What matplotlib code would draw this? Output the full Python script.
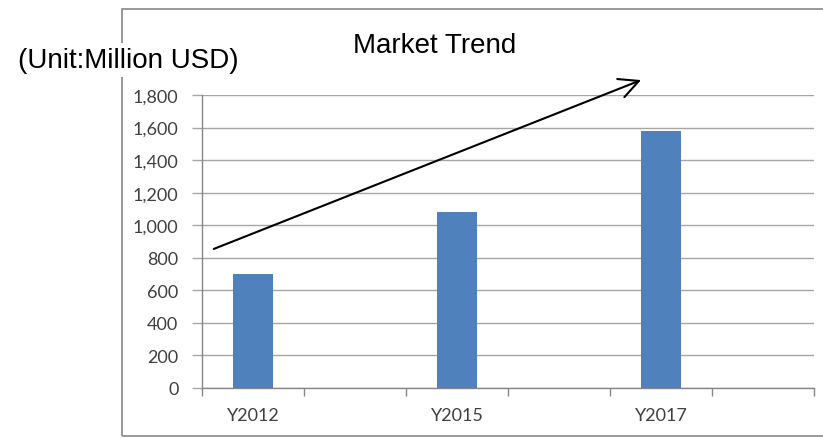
import matplotlib.pyplot as plt
from matplotlib.patches import Rectangle
from matplotlib.ticker import FuncFormatter, MultipleLocator

plt.rcParams['font.family'] = ['Liberation Sans', 'DejaVu Sans']

# six category slots, only three of them have values
categories = ['Y2012', '', 'Y2015', '', 'Y2017', '']
values = [700, None, 1080, None, 1580, None]

bar_color = '#4F81BD'
grid_color = '#A6A6A6'
axis_color = '#868686'
label_color = '#404040'

fig = plt.figure(figsize=(8.23, 4.39), dpi=100)
ax = fig.add_axes([202 / 823, 50 / 439, 612 / 823, 293 / 439])

xs = [i for i, v in enumerate(values) if v is not None]
hs = [v for v in values if v is not None]
ax.bar(xs, hs, width=0.4, color=bar_color, zorder=3)

ax.set_xlim(-0.5, len(categories) - 0.5)
ax.set_ylim(0, 1800)
ax.yaxis.set_major_locator(MultipleLocator(200))
ax.yaxis.set_major_formatter(FuncFormatter(lambda v, p: f'{int(v):,}'))
ax.grid(axis='y', color=grid_color, linewidth=1.0, zorder=0)

# category labels centred, ticks on the boundaries
ax.set_xticks(range(len(categories)))
ax.set_xticklabels(categories)
ax.set_xticks([i - 0.5 for i in range(len(categories) + 1)], minor=True)
ax.tick_params(axis='x', which='major', length=0, pad=14, labelsize=13, labelcolor=label_color)
ax.tick_params(axis='x', which='minor', length=6, width=1, color=axis_color)
ax.tick_params(axis='y', length=7, width=1, color=grid_color, pad=10, labelsize=13, labelcolor=label_color)
for lbl in ax.get_xticklabels() + ax.get_yticklabels():
    lbl.set_family(['Lato', 'DejaVu Sans'])

for side in ['top', 'right']:
    ax.spines[side].set_visible(False)
for side in ['left', 'bottom']:
    ax.spines[side].set_color(axis_color)
    ax.spines[side].set_linewidth(1)

# outer chart border
fig.patches.append(Rectangle((122 / 823, 2 / 439), 1.0, 427 / 439, transform=fig.transFigure,
                             fill=False, edgecolor='#888888', linewidth=1.2, zorder=1))

fig.text(435 / 823, 1 - 46 / 439, 'Market Trend', ha='center', va='center', fontsize=20)
fig.text(18 / 823, 1 - 61 / 439, '(Unit:Million USD)', ha='left', va='center', fontsize=20,
         bbox=dict(facecolor='white', edgecolor='none', pad=3), zorder=5)

# trend arrow
ax.annotate('', xy=(3.83, 1898), xytext=(-0.41, 848),
            arrowprops=dict(arrowstyle='->,head_length=0.7,head_width=0.35',
                            color='black', lw=1.5, mutation_scale=20),
            annotation_clip=False)

fig.savefig('out.png', dpi=100)
